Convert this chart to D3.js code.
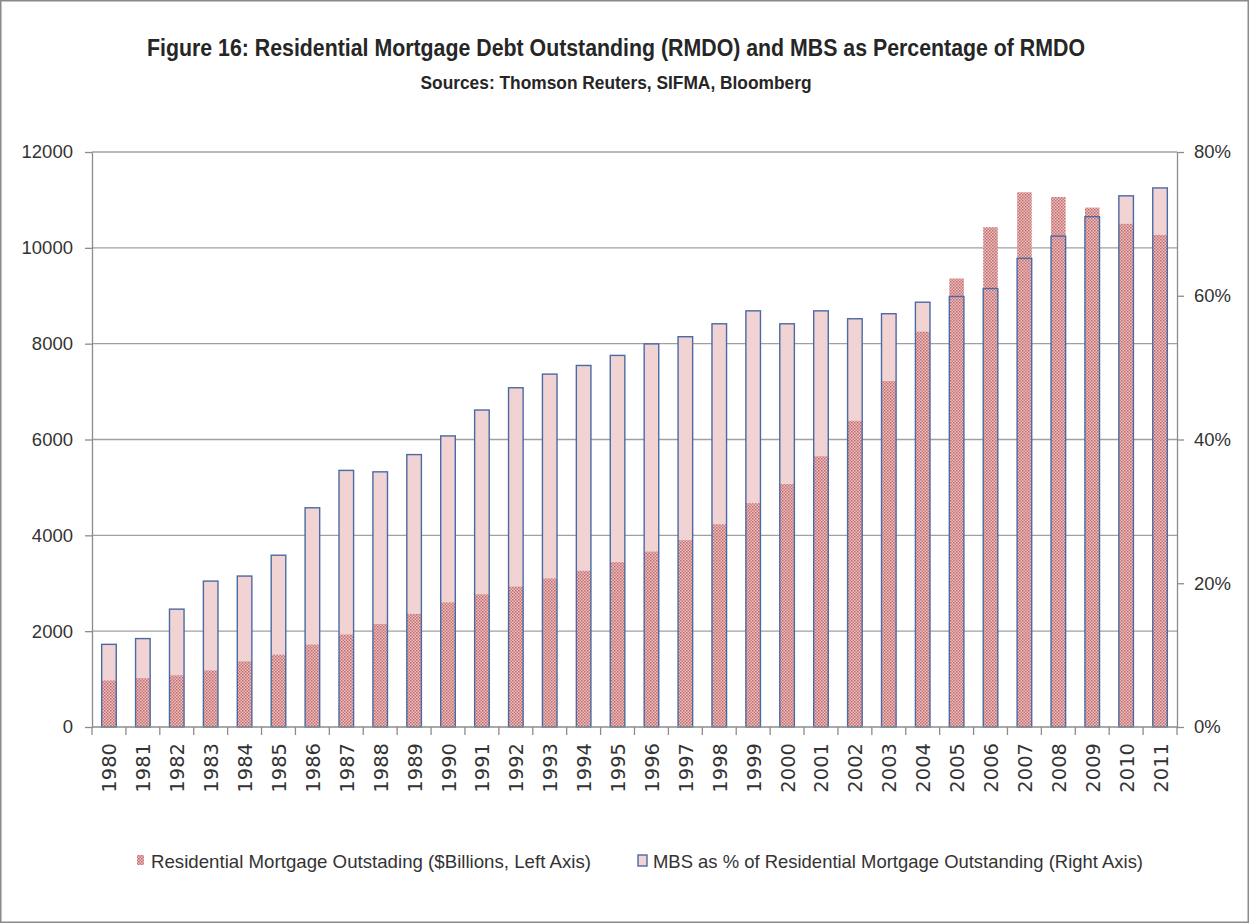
<!DOCTYPE html>
<html>
<head>
<meta charset="utf-8">
<script src="https://cdn.jsdelivr.net/npm/d3@7"></script>
<style>
  body { margin: 0; background: #fff; }
  svg { display: block; }
  .tick text { fill: #333; }
</style>
</head>
<body>
<svg width="1249" height="923"></svg>
<script>

const years = ['1980','1981','1982','1983','1984','1985','1986','1987','1988','1989',
  '1990','1991','1992','1993','1994','1995','1996','1997','1998','1999',
  '2000','2001','2002','2003','2004','2005','2006','2007','2008','2009','2010','2011'];

// $ billions, left axis
const rmdo = [970, 1020, 1080, 1180, 1370, 1510, 1720, 1930, 2150, 2360,
  2600, 2770, 2930, 3100, 3260, 3440, 3660, 3900, 4230, 4670,
  5070, 5650, 6390, 7220, 8250, 9360, 10430, 11160, 11060, 10840, 10500, 10270];

// percent, right axis
const mbsPct = [11.5, 12.3, 16.4, 20.3, 21.0, 23.9, 30.5, 35.7, 35.5, 37.9,
  40.5, 44.1, 47.2, 49.1, 50.3, 51.7, 53.3, 54.3, 56.1, 57.9,
  56.1, 57.9, 56.8, 57.5, 59.1, 59.9, 61.0, 65.2, 68.3, 71.0, 73.9, 75.0];

const leftTicks = [0, 2000, 4000, 6000, 8000, 10000, 12000];
const rightTicks = [0, 20, 40, 60, 80];

const titleText = 'Figure 16: Residential Mortgage Debt Outstanding (RMDO) and MBS as Percentage of RMDO';
const subtitleText = 'Sources: Thomson Reuters, SIFMA, Bloomberg';
const legendLabels = ['Residential Mortgage Outstading ($Billions, Left Axis)',
  'MBS as % of Residential Mortgage Outstanding (Right Axis)'];

const data = years.map((y, i) => ({ year: y, rmdo: rmdo[i], pct: mbsPct[i] }));

const svg = d3.select('svg');
const W = 1249, H = 923;
const margin = { left: 92, right: 72, top: 152, bottom: 196 };
const plotW = W - margin.left - margin.right;
const plotH = H - margin.top - margin.bottom;

const font = '"Liberation Sans", Arial, sans-serif';
const narrow = '"Liberation Sans Narrow", "Liberation Sans", Arial, sans-serif';

// frame
svg.append('rect')
  .attr('x', 0.5).attr('y', 0.5)
  .attr('width', W - 1).attr('height', H - 1)
  .attr('fill', '#fff')
  .attr('stroke', '#8a8a8a')
  .attr('stroke-width', 2);

const defs = svg.append('defs');
const pat = defs.append('pattern')
  .attr('id', 'dots')
  .attr('patternUnits', 'userSpaceOnUse')
  .attr('width', 3).attr('height', 3);
pat.append('rect').attr('width', 3).attr('height', 3).attr('fill', '#ecc0c0');
pat.append('rect').attr('width', 1.5).attr('height', 1.5).attr('fill', '#c06a6a');
pat.append('rect').attr('x', 1.5).attr('y', 1.5).attr('width', 1.5).attr('height', 1.5).attr('fill', '#c87878');

const g = svg.append('g').attr('transform', `translate(${margin.left},${margin.top})`);

const x = d3.scaleBand()
  .domain(years)
  .range([0, plotW])
  .paddingInner(0.57)
  .paddingOuter(0.285);

const yL = d3.scaleLinear().domain([0, 12000]).range([plotH, 0]);
const yR = d3.scaleLinear().domain([0, 80]).range([plotH, 0]);

// gridlines
g.append('g')
  .selectAll('line')
  .data(leftTicks.filter(d => d > 0))
  .join('line')
  .attr('x1', 0).attr('x2', plotW)
  .attr('y1', d => yL(d)).attr('y2', d => yL(d))
  .attr('stroke', '#a0a0a0')
  .attr('stroke-width', 1.3);

// MBS % bars (fill)
g.append('g')
  .selectAll('rect')
  .data(data)
  .join('rect')
  .attr('x', d => x(d.year))
  .attr('width', x.bandwidth())
  .attr('y', d => yR(d.pct))
  .attr('height', d => plotH - yR(d.pct))
  .attr('fill', '#f2d3d3');

// RMDO bars (dotted)
g.append('g')
  .selectAll('rect')
  .data(data)
  .join('rect')
  .attr('x', d => x(d.year))
  .attr('width', x.bandwidth())
  .attr('y', d => yL(d.rmdo))
  .attr('height', d => plotH - yL(d.rmdo))
  .attr('fill', 'url(#dots)');

// MBS % bar outlines on top
g.append('g')
  .selectAll('rect')
  .data(data)
  .join('rect')
  .attr('x', d => x(d.year))
  .attr('width', x.bandwidth())
  .attr('y', d => yR(d.pct))
  .attr('height', d => plotH - yR(d.pct))
  .attr('fill', 'none')
  .attr('stroke', '#4a6aa5')
  .attr('stroke-width', 1.4);

// left axis
const leftAxis = g.append('g')
  .call(d3.axisLeft(yL).tickValues(leftTicks).tickSize(7).tickSizeOuter(0).tickPadding(12).tickFormat(d3.format('d')));
leftAxis.selectAll('text').attr('font-family', font).attr('font-size', 18.5);

// right axis
const rightAxis = g.append('g')
  .attr('transform', `translate(${plotW},0)`)
  .call(d3.axisRight(yR).tickValues(rightTicks).tickSize(7).tickSizeOuter(0).tickPadding(10).tickFormat(d => d + '%'));
rightAxis.selectAll('text').attr('font-family', font).attr('font-size', 18.5);

[leftAxis, rightAxis].forEach(a => {
  a.select('.domain').attr('stroke', '#8c8c8c').attr('stroke-width', 1.3);
  a.selectAll('.tick line').attr('stroke', '#8c8c8c').attr('stroke-width', 1.3);
});

// bottom axis
const xAxisG = g.append('g').attr('transform', `translate(0,${plotH})`);
xAxisG.append('line')
  .attr('x1', 0).attr('x2', plotW)
  .attr('stroke', '#8c8c8c').attr('stroke-width', 1.3);
xAxisG.selectAll('.sep')
  .data(d3.range(years.length + 1))
  .join('line')
  .attr('class', 'sep')
  .attr('x1', i => i * x.step()).attr('x2', i => i * x.step())
  .attr('y1', 0).attr('y2', 8)
  .attr('stroke', '#8c8c8c').attr('stroke-width', 1.3);
xAxisG.selectAll('.yl')
  .data(years)
  .join('text')
  .attr('class', 'yl')
  .attr('transform', d => `translate(${x(d) + x.bandwidth() / 2 + 7.5},16) rotate(-90)`)
  .attr('text-anchor', 'end')
  .attr('font-family', '"DejaVu Sans", Verdana, sans-serif')
  .attr('font-size', 19.5)
  .attr('fill', '#333')
  .text(d => d);

// titles
svg.append('text')
  .attr('x', 616).attr('y', 56)
  .attr('text-anchor', 'middle')
  .attr('font-family', narrow)
  .attr('font-weight', 'bold')
  .attr('font-size', 23)
  .attr('fill', '#262626')
  .attr('textLength', 938)
  .attr('lengthAdjust', 'spacingAndGlyphs')
  .text(titleText);

svg.append('text')
  .attr('x', 616).attr('y', 89)
  .attr('text-anchor', 'middle')
  .attr('font-family', narrow)
  .attr('font-weight', 'bold')
  .attr('font-size', 18)
  .attr('fill', '#262626')
  .attr('textLength', 391)
  .attr('lengthAdjust', 'spacingAndGlyphs')
  .text(subtitleText);

// legend
const legend = svg.append('g');
legend.append('rect')
  .attr('x', 137).attr('y', 855).attr('width', 7).attr('height', 10)
  .attr('fill', 'url(#dots)');
legend.append('text')
  .attr('x', 151).attr('y', 868)
  .attr('font-family', narrow).attr('font-size', 19).attr('fill', '#333')
  .attr('textLength', 440).attr('lengthAdjust', 'spacingAndGlyphs')
  .text(legendLabels[0]);
legend.append('rect')
  .attr('x', 638).attr('y', 855).attr('width', 9).attr('height', 11)
  .attr('fill', '#f2d3d3').attr('stroke', '#4a6aa5').attr('stroke-width', 1.4);
legend.append('text')
  .attr('x', 653).attr('y', 868)
  .attr('font-family', narrow).attr('font-size', 19).attr('fill', '#333')
  .attr('textLength', 490).attr('lengthAdjust', 'spacingAndGlyphs')
  .text(legendLabels[1]);

</script>
</body>
</html>
